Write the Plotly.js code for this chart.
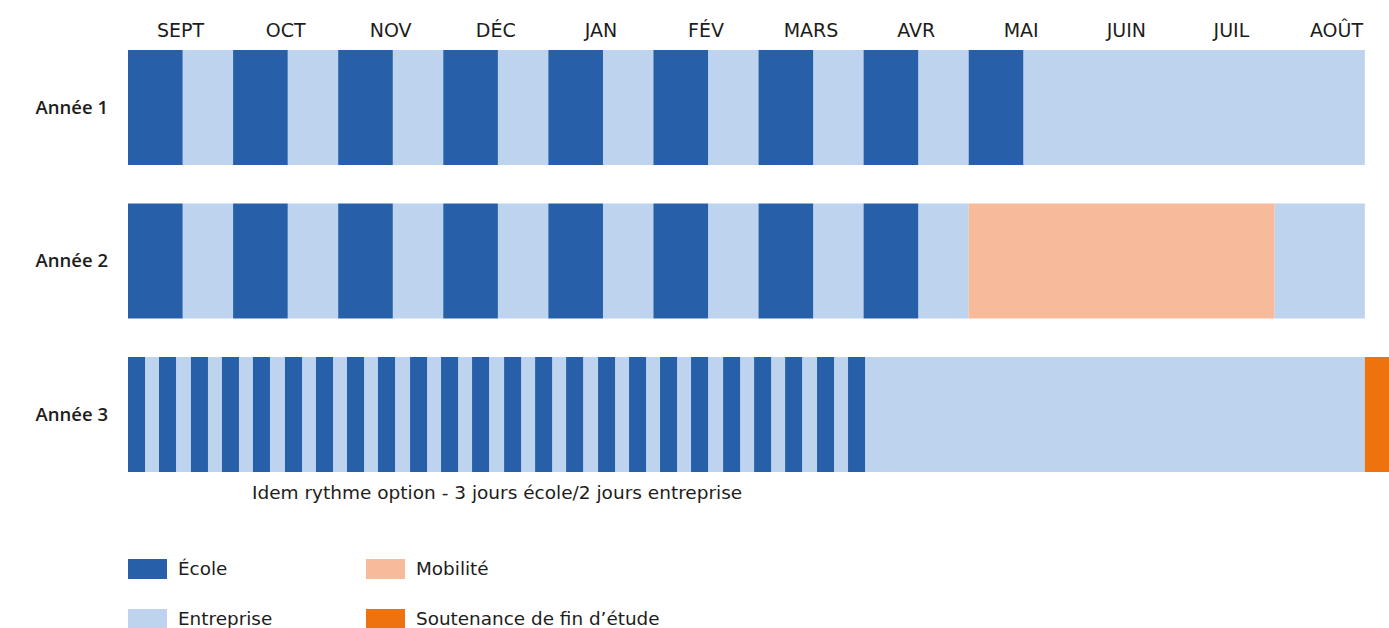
<!DOCTYPE html>
<html>
<head>
<meta charset="utf-8">
<script src="https://cdn.plot.ly/plotly-3.0.1.min.js"></script>
<style>html,body{margin:0;padding:0;background:#fff;}#chart{width:1389px;height:628px;}</style>
</head>
<body>
<div id="chart"></div>
<script>
// ---- Data (x unit = months from 1 September) ----
const months = ['SEPT','OCT','NOV','DÉC','JAN','FÉV','MARS','AVR','MAI','JUIN','JUIL','AOÛT'];
const monthCenters = [0.5,1.5,2.5,3.5,4.5,5.5,6.5,7.5,8.5,9.5,10.5,11.5];
const rows = ['Année 1','Année 2','Année 3'];

// Année 1
const ecole1Start = [0,1,2,3,4,5,6,7,8];
const ecole1End   = [0.52,1.52,2.52,3.52,4.52,5.52,6.52,7.52,8.52];
const entreprise1Start = [0.52,1.52,2.52,3.52,4.52,5.52,6.52,7.52,8.52];
const entreprise1End   = [1,2,3,4,5,6,7,8,11.77];

// Année 2
const ecole2Start = [0,1,2,3,4,5,6,7];
const ecole2End   = [0.52,1.52,2.52,3.52,4.52,5.52,6.52,7.52];
const entreprise2Start = [0.52,1.52,2.52,3.52,4.52,5.52,6.52,7.52,10.91];
const entreprise2End   = [1,2,3,4,5,6,7,8,11.77];
const mobilite2Start = [8];
const mobilite2End   = [10.91];

// Année 3 (3 jours école / 2 jours entreprise)
const ecole3Start = [0,0.295,0.599,0.894,1.189,1.494,1.789,2.084,2.379,2.684,2.979,3.274,
                     3.579,3.874,4.169,4.473,4.768,5.063,5.358,5.663,5.958,6.253,6.557,6.852];
const ecole3End   = [0.162,0.457,0.761,1.056,1.351,1.656,1.951,2.246,2.541,2.846,3.141,3.436,
                     3.741,4.036,4.331,4.635,4.930,5.225,5.520,5.825,6.120,6.415,6.719,7.014];
const entreprise3Start = [0.162,0.457,0.761,1.056,1.351,1.656,1.951,2.246,2.541,2.846,3.141,3.436,
                          3.741,4.036,4.331,4.635,4.930,5.225,5.520,5.825,6.120,6.415,6.719,7.014];
const entreprise3End   = [0.295,0.599,0.894,1.189,1.494,1.789,2.084,2.379,2.684,2.979,3.274,3.579,
                          3.874,4.169,4.473,4.768,5.063,5.358,5.663,5.958,6.253,6.557,6.852,11.77];
const soutenance3Start = [11.77];
const soutenance3End   = [12];

const categories = ['École','Entreprise','Mobilité','Soutenance de fin d’étude'];
const colors = ['#2760A9','#BDD3EE','#F7BB9B','#EE730E'];
const annotationText = 'Idem rythme option - 3 jours école/2 jours entreprise';

// ---- Build traces ----
function segs(rowName, starts, ends) {
  return {y: starts.map(() => rowName), base: starts, x: starts.map((s, i) => ends[i] - s)};
}
function merge(list) {
  return list.reduce((a, s) => ({y: a.y.concat(s.y), base: a.base.concat(s.base), x: a.x.concat(s.x)}),
                     {y: [], base: [], x: []});
}
const groups = [
  merge([segs(rows[0], entreprise1Start, entreprise1End), segs(rows[1], entreprise2Start, entreprise2End), segs(rows[2], entreprise3Start, entreprise3End)]),
  merge([segs(rows[0], ecole1Start, ecole1End), segs(rows[1], ecole2Start, ecole2End), segs(rows[2], ecole3Start, ecole3End)]),
  merge([segs(rows[1], mobilite2Start, mobilite2End)]),
  merge([segs(rows[2], soutenance3Start, soutenance3End)])
];
const groupCat = [1, 0, 2, 3];
const traces = groups.map((g, i) => ({
  type: 'bar', orientation: 'h',
  y: g.y, base: g.base, x: g.x,
  width: 0.749,
  name: categories[groupCat[i]],
  marker: {color: colors[groupCat[i]], line: {width: 0}},
  hoverinfo: 'skip', showlegend: false
}));

const FONT = '"DejaVu Sans", "Open Sans", sans-serif';
const W = 1389, H = 628, L = 128, R = 0, T = 50, B = 156;
const pw = W - L - R, ph = H - T - B;
const px = x => (x - L) / pw;
const py = y => (H - B - y) / ph;

const shapes = [], annotations = [];
const legendPos = [[128, 559], [128, 609], [366, 559], [366, 609]];
const legendOrder = [0, 1, 2, 3];
legendOrder.forEach((c, i) => {
  const [lx, ly] = legendPos[i];
  shapes.push({type: 'rect', xref: 'paper', yref: 'paper', x0: px(lx), x1: px(lx + 39), y0: py(ly), y1: py(ly + 20),
               fillcolor: colors[c], line: {width: 0}});
  annotations.push({xref: 'paper', yref: 'paper', x: px(lx + 48), y: py(ly + 9), xanchor: 'left', yanchor: 'middle',
                    text: categories[c], showarrow: false, font: {family: FONT, size: 18.4, color: '#1d1d1b'}});
});
annotations.push({xref: 'paper', yref: 'paper', x: px(250), y: py(492), xanchor: 'left', yanchor: 'middle',
                  text: annotationText, showarrow: false, font: {family: FONT, size: 18.5, color: '#1d1d1b'}});

const layout = {
  width: W, height: H,
  margin: {l: L, r: R, t: T, b: B},
  paper_bgcolor: '#ffffff', plot_bgcolor: '#ffffff',
  barmode: 'overlay',
  font: {family: FONT, color: '#1d1d1b'},
  xaxis: {
    range: [0, 12], side: 'top', showgrid: false, zeroline: false, showline: false,
    tickmode: 'array', tickvals: monthCenters, ticktext: months, ticks: '',
    tickfont: {family: FONT, size: 19, color: '#1d1d1b'}, ticklabelstandoff: 8, fixedrange: true
  },
  yaxis: {
    type: 'category', categoryorder: 'array', categoryarray: rows,
    range: [2.3745, -0.3745], showgrid: false, zeroline: false, showline: false, ticks: '',
    tickfont: {family: '"Open Sans", "DejaVu Sans", sans-serif', size: 18.5, color: '#1d1d1b', weight: 600},
    ticklabelstandoff: 19, fixedrange: true
  },
  shapes: shapes,
  annotations: annotations
};

Plotly.newPlot('chart', traces, layout, {displayModeBar: false, staticPlot: true});
</script>
</body>
</html>
